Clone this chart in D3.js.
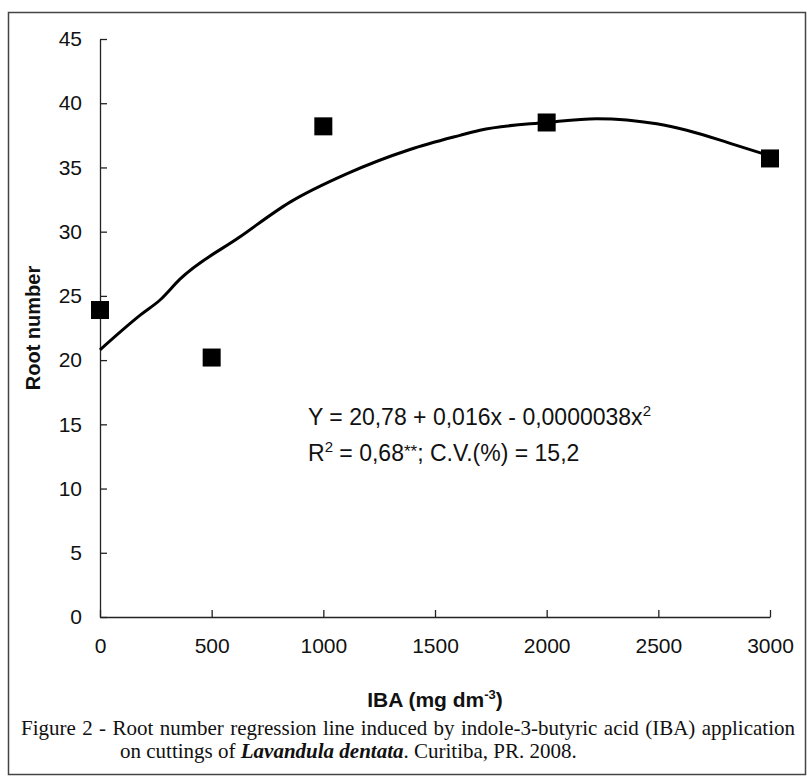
<!DOCTYPE html>
<html>
<head>
<meta charset="utf-8">
<script src="https://cdn.jsdelivr.net/npm/d3@7"></script>
<style>
  html, body { margin: 0; padding: 0; background: #fff; }
  svg { display: block; }
</style>
</head>
<body>
<svg id="chart" width="807" height="776"></svg>
<script>
// ---- data ----
const doses = [0, 500, 1000, 2000, 3000];                 // IBA (mg dm-3)
const rootNumber = [23.9, 20.2, 38.2, 38.5, 35.7];         // observed means
const curveX = [0, 180, 270, 358, 627, 851, 1104, 1388, 1612, 1701, 2000, 2224, 2493, 2627, 2836, 3000];
const curveY = [20.8, 23.5, 24.7, 26.3, 29.6, 32.3, 34.5, 36.4, 37.5, 37.9, 38.5, 38.8, 38.4, 37.9, 36.8, 35.9];
const xTicks = [0, 500, 1000, 1500, 2000, 2500, 3000];
const yTicks = [0, 5, 10, 15, 20, 25, 30, 35, 40, 45];
const equationLine1 = "Y = 20,78 + 0,016x - 0,0000038x";
const equationLine2 = "; C.V.(%) = 15,2";
const caption1 = "Figure 2 - Root number regression line induced by indole-3-butyric acid (IBA) application";

(function () {
const svg = d3.select("#chart");
const mLeft = 100, mRight = 770, mTop = 39, mBottom = 617;

// frame
svg.append("rect").attr("x", 8.5).attr("y", 12.5).attr("width", 797).attr("height", 762)
  .attr("fill", "none").attr("stroke", "#444").attr("stroke-width", 1.5);

const x = d3.scaleLinear().domain([0, 3000]).range([mLeft, mRight]);
const y = d3.scaleLinear().domain([0, 45]).range([mBottom, mTop]);

const axisFont = "'Liberation Sans', Arial, sans-serif";

const gx = svg.append("g").attr("transform", `translate(0,${mBottom})`)
  .call(d3.axisBottom(x).tickValues(xTicks).tickFormat(d3.format("d"))
    .tickSizeInner(-7).tickSizeOuter(0).tickPadding(21));
const gy = svg.append("g").attr("transform", `translate(${mLeft},0)`)
  .call(d3.axisLeft(y).tickValues(yTicks).tickFormat(d3.format("d"))
    .tickSizeInner(-7).tickSizeOuter(0).tickPadding(18));
[gx, gy].forEach(g => {
  g.selectAll("path.domain").attr("stroke", "#222").attr("stroke-width", 1.3);
  g.selectAll(".tick line").attr("stroke", "#222").attr("stroke-width", 1.3);
  g.selectAll(".tick text").attr("fill", "#111").style("font-family", axisFont).style("font-size", "21px");
});

// axis titles
svg.append("text").attr("transform", `translate(33,${(mTop + mBottom) / 2}) rotate(-90)`)
  .attr("text-anchor", "middle").attr("dominant-baseline", "central")
  .style("font-family", axisFont).style("font-weight", "bold").style("font-size", "20px").attr("fill", "#111")
  .text("Root number");

const xt = svg.append("text").attr("x", (mLeft + mRight) / 2).attr("y", 707)
  .attr("text-anchor", "middle")
  .style("font-family", axisFont).style("font-weight", "bold").style("font-size", "21px").attr("fill", "#111");
xt.append("tspan").text("IBA (mg dm");
xt.append("tspan").attr("dy", -8).style("font-size", "13px").text("-3");
xt.append("tspan").attr("dy", 8).text(")");

// regression curve
const pts = curveX.map((d, i) => [d, curveY[i]]);
svg.append("path").datum(pts)
  .attr("fill", "none").attr("stroke", "#000").attr("stroke-width", 3)
  .attr("d", d3.line().x(d => x(d[0])).y(d => y(d[1])).curve(d3.curveMonotoneX));

// observed points
const sq = 18;
svg.selectAll("rect.pt").data(doses.map((d, i) => [d, rootNumber[i]])).join("rect")
  .attr("class", "pt")
  .attr("x", d => x(d[0]) - sq / 2).attr("y", d => y(d[1]) - sq / 2)
  .attr("width", sq).attr("height", sq).attr("fill", "#000");

// equation
const eq1 = svg.append("text").attr("x", 308).attr("y", 425)
  .style("font-family", axisFont).style("font-size", "23px").attr("fill", "#111");
eq1.append("tspan").text(equationLine1);
eq1.append("tspan").attr("dy", -9).style("font-size", "15px").text("2");

const eq2 = svg.append("text").attr("x", 308).attr("y", 461)
  .style("font-family", axisFont).style("font-size", "23px").attr("fill", "#111");
eq2.append("tspan").text("R");
eq2.append("tspan").attr("dy", -9).style("font-size", "15px").text("2");
eq2.append("tspan").attr("dy", 9).text(" = 0,68");
eq2.append("tspan").attr("dy", -4).style("font-size", "17px").text("**");
eq2.append("tspan").attr("dy", 4).text(equationLine2);

// caption (first line justified)
const capFont = "'Liberation Serif', 'Times New Roman', serif";
const c1 = svg.append("text").attr("x", 21).attr("y", 735)
  .style("font-family", capFont).style("font-size", "21px").attr("fill", "#111")
  .text(caption1);
const natural = c1.node().getComputedTextLength();
const nSpaces = caption1.split(" ").length - 1;
const extra = Math.max(0, (774 - natural) / nSpaces);
c1.style("word-spacing", extra + "px");

const cap2 = svg.append("text").attr("x", 120).attr("y", 758)
  .style("font-family", capFont).style("font-size", "21px").attr("fill", "#111");
cap2.append("tspan").text("on cuttings of ");
cap2.append("tspan").style("font-weight", "bold").style("font-style", "italic").text("Lavandula dentata");
cap2.append("tspan").text(". Curitiba, PR. 2008.");
})();
</script>
</body>
</html>
